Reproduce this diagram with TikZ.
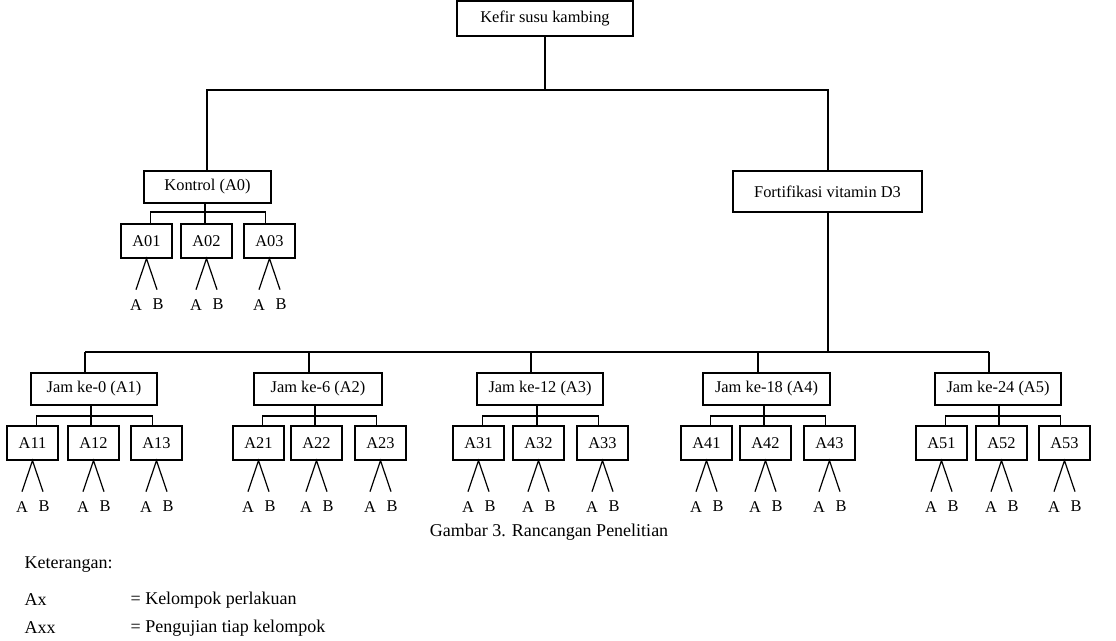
\documentclass[tikz,border=0pt]{standalone}
\usepackage{fontspec}
\setmainfont{Liberation Serif}
\newcommand\fsd{\fontsize{16.4}{19}\selectfont}
\newcommand\fcap{\fontsize{18}{21}\selectfont}
\begin{document}
\begin{tikzpicture}[x=1pt,y=-1pt,line width=1.2pt,
  box/.style={draw,line width=1.2pt,inner sep=0pt,font=\fsd},
  abox/.style={box,minimum width=51pt,minimum height=34pt},
  lbl/.style={inner sep=0pt,font=\fsd},
  txt/.style={inner sep=0pt,font=\fcap,anchor=west}]
\useasboundingbox (0,0) rectangle (1116,640);

% root and first level
\node[box,minimum width=176pt,minimum height=35pt] (root) at (545,18.5) {Kefir susu kambing};
\node[box,minimum width=127pt,minimum height=32pt] (kon) at (207.5,187) {Kontrol (A0)};
\node[box,minimum width=189pt,minimum height=41pt] (fort) at (827.5,191.5) {Fortifikasi vitamin D3};
\coordinate (busL) at (207,90);
\coordinate (busR) at (828,90);
\draw (root.south) -- (root.south |- busL);
\draw (kon.north -| busL) -- (busL) -- (busR) -- (fort.north -| busR);

% Kontrol children
\node[abox] (a01) at (146.5,241) {A01};
\node[abox] (a02) at (206.5,241) {A02};
\node[abox] (a03) at (269.5,241) {A03};
\coordinate (k0) at (205,212);
\draw (kon.south -| k0) -- (k0);
\draw ([xshift=4pt]a01.north) |- ([xshift=-4pt]a03.north |- k0) -- ([xshift=-4pt]a03.north);
\draw (a02.north -| k0) -- (k0);
\foreach \n in {a01,a02,a03}{
  \draw (\n.south) ++(-10.5,31) -- (\n.south) -- ++(10.5,31);
  \path (\n.south) ++(-10.5,46) node[lbl] (\n A) {A};
  \path (\n.south) ++(11.5,46) node[lbl] (\n B) {B};
}

% Fortifikasi children
\foreach \i/\jl/\jr/\dx/\sv/\al/\bl/\cl/\lab in {
  1/31/157/85/91/7/68/131/{Jam ke-0 (A1)},
  2/254/382/309/315/233/291/355/{Jam ke-6 (A2)},
  3/477/603/531/537/453/513/577/{Jam ke-12 (A3)},
  4/703/830/758/764/681/740/804/{Jam ke-18 (A4)},
  5/935/1061/989/999/916/976/1039/{Jam ke-24 (A5)}}{
  \pgfmathsetmacro\w{\jr-\jl}
  \pgfmathsetmacro\cx{(\jr+\jl)/2}
  \node[box,minimum width=\w pt,minimum height=32pt] (g\i) at (\cx,389) {\lab};
  \node[abox] (g\i a) at (\al+25.5,443) {A\i1};
  \node[abox] (g\i b) at (\bl+25.5,443) {A\i2};
  \node[abox] (g\i c) at (\cl+25.5,443) {A\i3};
  \coordinate (d\i) at (\dx,352);
  \coordinate (s\i) at (\sv,416);
  \draw (d\i) -- (g\i.north -| d\i);
  \draw (g\i.south -| s\i) -- (s\i);
  \draw ([xshift=4pt]g\i a.north) |- ([xshift=-4pt]g\i c.north |- s\i) -- ([xshift=-4pt]g\i c.north);
  \draw (g\i b.north -| s\i) -- (s\i);
  \foreach \k in {a,b,c}{
    \draw (g\i\k.south) ++(-10.5,31) -- (g\i\k.south) -- ++(10.5,31);
    \path (g\i\k.south) ++(-10.5,46) node[lbl] (g\i\k A) {A};
    \path (g\i\k.south) ++(11.5,46) node[lbl] (g\i\k B) {B};
  }
}
\draw (fort.south -| busR) -- (busR |- d1);
\draw (d1) -- (d5);

% caption and legend
\node[inner sep=0pt,font=\fcap] (cap) at (549,532) {Gambar 3. Rancangan Penelitian};
\node[txt] (ket) at (24,565) {Keterangan:};
\node[txt] (ax) at (24,600) {Ax};
\node[txt] (axd) at (130,600) {= Kelompok perlakuan};
\node[txt] (axx) at (24,628) {Axx};
\node[txt] (axxd) at (130,628) {= Pengujian tiap kelompok};
\end{tikzpicture}
\end{document}
